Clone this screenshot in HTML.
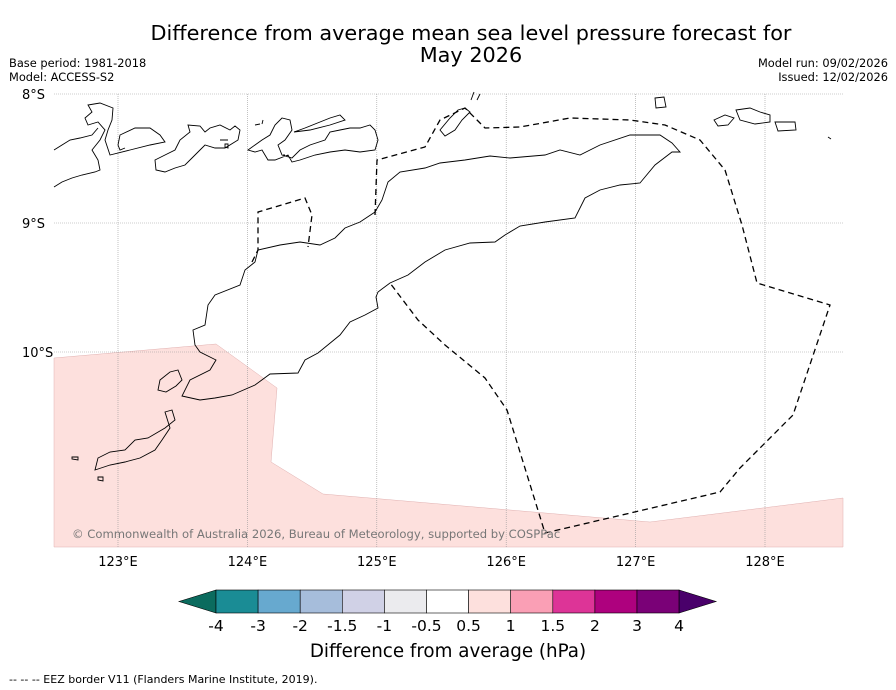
<!DOCTYPE html>
<html><head><meta charset="utf-8"><style>
body{margin:0;background:#fff;font-family:"Liberation Sans","DejaVu Sans",sans-serif;}
svg{display:block}
</style></head><body>
<svg width="896" height="690" viewBox="0 0 896 690" xmlns="http://www.w3.org/2000/svg" font-family="DejaVu Sans, Liberation Sans, sans-serif">
<text x="471" y="40" font-size="20.8" text-anchor="middle">Difference from average mean sea level pressure forecast for</text>
<text x="471" y="62" font-size="20.8" text-anchor="middle">May 2026</text>
<text x="9" y="67" font-size="11.4">Base period: 1981-2018</text>
<text x="9" y="81" font-size="11.4">Model: ACCESS-S2</text>
<text x="888" y="67" font-size="11.4" text-anchor="end">Model run: 09/02/2026</text>
<text x="888" y="81" font-size="11.4" text-anchor="end">Issued: 12/02/2026</text>
<g>
<rect x="54" y="94" width="789" height="453" fill="#fff"/>
<polygon fill="#fde0dd" stroke="#e0b0b0" stroke-width="0.5" points="54,358 216,344 277,388 271,462 323,494 650,522 843,498 843,547 54,547"/>
<g id="grid" stroke="#999" stroke-width="0.6" stroke-dasharray="1,1"></g>
<g fill="none" stroke="#000" stroke-width="0.9">
<path d="M193,330 L205,325 L208,305 L215,295 L240,285 L245,270 L255,262 L258,250 L280,245 L300,242 L320,245 L335,238 L345,228 L360,222 L375,212 L382,200 L388,182 L400,172 L425,168 L440,163 L465,160 L490,156 L510,158 L545,155 L560,150 L580,155 L600,145 L630,135 L660,135 L672,143 L680,152 L672,152 L655,165 L640,183 L620,185 L600,190 L585,198 L575,218 L545,222 L520,226 L505,235 L495,242 L470,243 L445,250 L425,262 L408,275 L390,283 L378,292 L376,297 L378,308 L365,315 L350,322 L340,335 L318,353 L305,360 L298,373 L270,374 L255,385 L232,395 L215,398 L200,400 L182,396 L190,380 L210,370 L216,360 L200,352 L195,345 L193,330 Z"/>
<path d="M160,380 L170,372 L178,370 L182,380 L176,386 L166,392 L158,390 Z"/>
<path d="M165,412 L172,410 L175,420 L165,428 L148,438 L135,440 L125,450 L110,452 L98,458 L95,470 L110,465 L125,462 L140,458 L155,450 L162,440 L170,428 Z M72,457 L78,457 L78,460 L72,459 Z M98,477 L103,477 L103,481 L98,480 Z"/>
<path d="M54,187 L62,182 L72,178 L82,175 L95,172 L100,170 L98,160 L92,150 L100,140 L105,130 L98,122 L88,125 L85,118 L92,112 L88,105 L100,103 L113,108 L112,120 L108,130 L105,140 L110,155 L130,150 L150,145 L165,142 L160,135 L150,128 L135,128 L120,135 L118,145 L120,150 L125,148 M54,150 L62,145 L70,140 L80,138 L92,135 L98,128 M155,160 L165,155 L175,150 L180,140 L190,132 L188,125 L200,126 L205,132 L210,128 L220,125 L230,130 L235,126 L240,130 L238,140 L225,148 L215,148 L205,145 L200,150 L192,158 L185,165 L175,168 L165,172 L156,170 Z M220,140 L228,140 M255,125 L260,124 M263,120 L262,124"/>
<path d="M248,150 L255,145 L262,140 L270,135 L275,125 L282,118 L290,120 L292,130 L285,140 L278,145 L282,155 L292,158 L300,150 L310,145 L325,140 L330,132 L340,130 L350,128 L360,128 L370,125 L375,130 L378,140 L375,150 L360,152 L345,150 L330,152 L315,155 L300,160 L292,162 L288,155 L275,160 L268,160 L262,150 L255,152 Z M294,132 L305,128 L315,124 L330,118 L340,115 L345,120 L330,125 L310,130 Z M225,144 L228,144 L228,148 L225,147 Z M283,155 L285,155"/>
<path d="M440,130 L450,118 L458,110 L465,108 L470,112 L462,120 L455,130 L445,136 Z M471,100 L474,92 M477,100 L480,94"/>
<path d="M655,98 L664,97 L666,107 L656,108 Z M714,120 L725,115 L734,118 L728,125 L718,126 Z M736,110 L750,108 L760,112 L770,115 L770,122 L755,124 L740,120 Z M775,122 L795,122 L796,130 L778,131 Z M828,137 L831,139"/>
</g>
<g fill="none" stroke="#000" stroke-width="1.3" stroke-dasharray="6,4">
<path d="M252,262 L258,250 L258,212 L305,198 L312,215 L308,247"/>
<path d="M375,215 L377,160 L425,147 L440,120 L465,108 L485,128 L520,127 L570,118 L630,120 L665,125 L700,140 L725,170 L742,225 L757,283 L830,305 L793,415 L740,468 L720,492 L545,533 L507,410 L485,378 L445,345 L418,320 L390,283"/>
</g>
<text x="72" y="538" font-size="11.6" fill="#777">© Commonwealth of Australia 2026, Bureau of Meteorology, supported by COSPPac</text>
</g>
<g id="lonlabels" font-size="13"></g>
<g id="latlabels" font-size="13"></g>
<g id="colorbar"></g>
<text x="448" y="657" font-size="18.3" text-anchor="middle">Difference from average (hPa)</text>
<text x="9" y="683" font-size="11">--  --  -- EEZ border V11 (Flanders Marine Institute, 2019).</text>
<script>
const lons=[123,124,125,126,127,128];
const lats=[8,9,10];
const cbBounds=["-4","-3","-2","-1.5","-1","-0.5","0.5","1","1.5","2","3","4"];
const cbColors=["#1a8c95","#67a9cf","#a6bddb","#d0d1e6","#ebebee","#ffffff","#fde0dd","#fa9fb5","#dd3497","#ae017e","#7a0177"];
const cbUnder="#0b6b5e", cbOver="#49006a";
const NS="http://www.w3.org/2000/svg";
const lx=v=>118+(v-123)*129.4, ly=v=>94+(v-8)*129;
const g=document.getElementById('grid'), ll=document.getElementById('lonlabels'), la=document.getElementById('latlabels');
lons.forEach(v=>{const l=document.createElementNS(NS,'line');


l.setAttribute('x1',lx(v));l.setAttribute('x2',lx(v));l.setAttribute('y1',94);l.setAttribute('y2',547);g.appendChild(l);
const t=document.createElementNS(NS,'text');


t.setAttribute('x',lx(v));t.setAttribute('y',566);t.setAttribute('text-anchor','middle');t.textContent=v+'°E';ll.appendChild(t);});
lats.forEach(v=>{const l=document.createElementNS(NS,'line');


l.setAttribute('x1',54);l.setAttribute('x2',843);l.setAttribute('y1',ly(v));l.setAttribute('y2',ly(v));g.appendChild(l);
const t=document.createElementNS(NS,'text');


t.setAttribute('x',22);t.setAttribute('y',ly(v)+5);t.textContent=v+'°S';la.appendChild(t);});
const cb=document.getElementById('colorbar');
const x0=216,w=42.1,y0=590,h=23;
const mk=(tag,attrs)=>{const e=document.createElementNS(NS,tag);for(const k in attrs)e.setAttribute(k,attrs[k]);cb.appendChild(e);return e;};
let p=mk('polygon',{points:`${x0},${y0} ${x0-37},${y0+h/2} ${x0},${y0+h}`,fill:cbUnder,stroke:'#000','stroke-width':0.6});


cbColors.forEach((c,i)=>{const r=mk('rect',{x:x0+i*w,y:y0,width:w,height:h,fill:c,stroke:'#000','stroke-width':0.6});

});
const xe=x0+cbColors.length*w;
p=mk('polygon',{points:`${xe},${y0} ${xe+37},${y0+h/2} ${xe},${y0+h}`,fill:cbOver,stroke:'#000','stroke-width':0.6});


cbBounds.forEach((b,i)=>{const t=mk('text',{x:x0+i*w,y:631,'font-size':15.5,'text-anchor':'middle'});


t.textContent=b;});
</script>
</svg>
</body></html>
